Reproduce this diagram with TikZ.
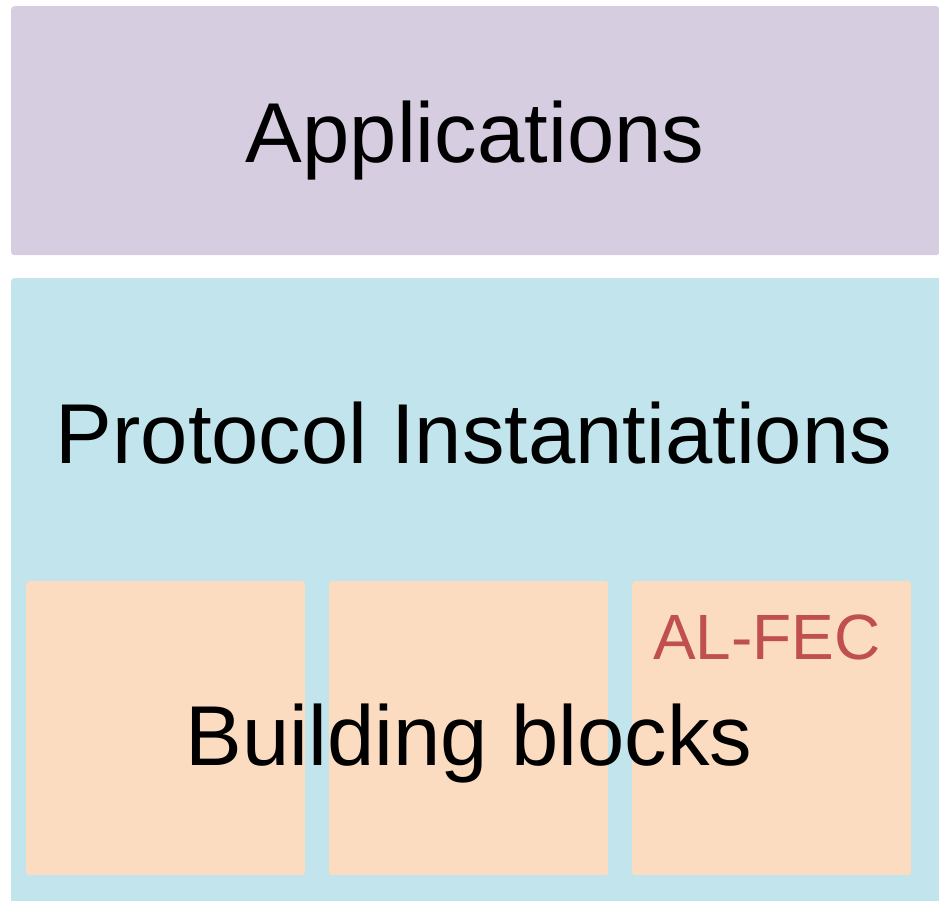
\documentclass[tikz,border=0pt]{standalone}
\usepackage{fontspec}
\setmainfont{Liberation Sans}
\definecolor{app_purple}{RGB}{215, 205, 225}
\definecolor{proto_blue}{RGB}{194, 228, 236}
\definecolor{block_orange}{RGB}{252, 220, 193}
\definecolor{fec_red}{RGB}{192, 80, 77}
\tikzstyle{layer}=[rectangle,rounded corners=3pt,draw=none,inner sep=0pt,
  anchor=north west]
\tikzstyle{bb}=[layer,fill=block_orange,minimum width=279pt,minimum height=294pt]
\tikzstyle{bigtext}=[inner sep=0pt,anchor=base,
  font=\fontsize{85}{100}\selectfont]

\begin{document}
\begin{tikzpicture}[x=1pt,y=-1pt]
    \useasboundingbox (0,0) rectangle (939,901);
    \node [layer,fill=app_purple,minimum width=928pt,minimum height=249pt] (app) at (11,6) {};
    \node [layer,fill=proto_blue,minimum width=934pt,minimum height=630pt] (proto) at (11,278) {};
    \node [bb] (bbone) at (26,581) {};
    \node [bb] (bbtwo) at (329,581) {};
    \node [bb] (bbthree) at (632,581) {};
    \node [style=bigtext] (apptext) at (475,163) {Applications};
    \node [style=bigtext] (prototext) at (474,463) {Protocol Instantiations};
    \node [style=bigtext] (bbtext) at (469,765) {Building blocks};
    \node [inner sep=0pt,anchor=base,text=fec_red,
      font=\fontsize{64}{80}\selectfont] (alfec) at (767,659) {AL-FEC};
  \end{tikzpicture}
\end{document}
